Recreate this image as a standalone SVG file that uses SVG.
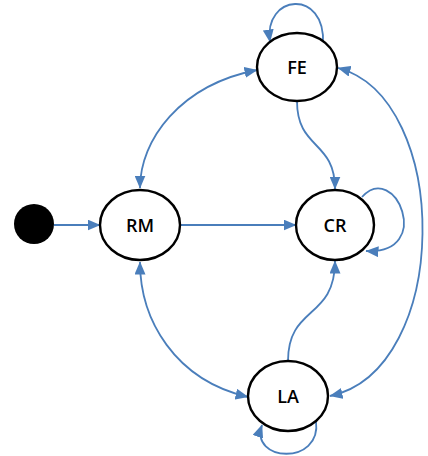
<svg xmlns="http://www.w3.org/2000/svg" width="428" height="456" viewBox="0 0 428 456">
  <style>
    .state { fill: #ffffff; stroke: #000000; stroke-width: 2.4; }
    .label { font-family: "Open Sans", "Liberation Sans", Arial, sans-serif; font-size: 18px; font-weight: 600; fill: #000000; text-anchor: middle; dominant-baseline: central; }
    .edge { fill: none; stroke: #4a7ebb; stroke-width: 1.8; marker-end: url(#arrow); }
    .both { marker-start: url(#arrow); }
  </style>
  <defs>
    <marker id="arrow" markerUnits="userSpaceOnUse" markerWidth="13" markerHeight="11" viewBox="0 0 13 11" refX="12.5" refY="5.5" orient="auto-start-reverse">
      <path d="M0,0 L13,5.5 L0,11 z" fill="#4a7ebb"/>
    </marker>
  </defs>
  <rect width="428" height="456" fill="#ffffff"/>

  <g id="connectors">
    <line class="edge" x1="54" y1="225" x2="100" y2="225"/>
    <line class="edge" x1="180" y1="225" x2="296" y2="225"/>
    <path class="edge both" d="M140,188 C140,140 180,85 257,70"/>
    <path class="edge both" d="M140,262 C140,320 175,380 248,397"/>
    <path class="edge" d="M297,101 C297,150 335,140 335,189"/>
    <path class="edge" d="M288,361 C288,305 335,320 335,261"/>
    <path class="edge both" d="M338,68 C452,98 452,370 330,396"/>
    <path class="edge" d="M323,44 C326,-12 263,-6 270,42"/>
    <path class="edge" d="M362,197 C395,160 435,255 366,251"/>
    <path class="edge" d="M316,421 C322,466 249,462 262,425"/>
  </g>

  <g id="start">
    <circle cx="34" cy="224" r="20" fill="#000000"/>
  </g>
  <g id="RM">
    <ellipse class="state" cx="140" cy="225" rx="40" ry="35"/>
    <text class="label" x="140" y="225">RM</text>
  </g>
  <g id="FE">
    <ellipse class="state" cx="297" cy="67" rx="40" ry="34"/>
    <text class="label" x="297" y="67">FE</text>
  </g>
  <g id="CR">
    <ellipse class="state" cx="335" cy="225" rx="39" ry="35"/>
    <text class="label" x="335" y="225">CR</text>
  </g>
  <g id="LA">
    <ellipse class="state" cx="288" cy="396" rx="40" ry="35"/>
    <text class="label" x="288" y="396">LA</text>
  </g>
</svg>
